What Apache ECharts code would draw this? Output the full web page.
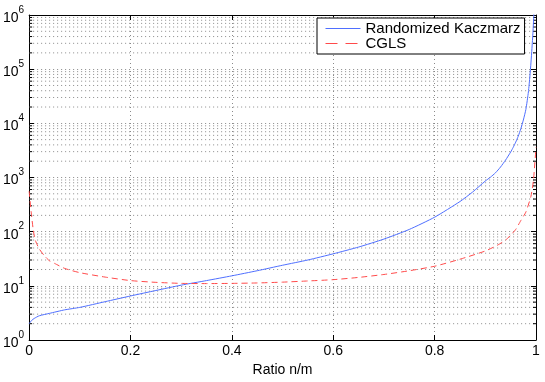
<!DOCTYPE html>
<html>
<head>
<meta charset="utf-8">
<script src="https://cdn.jsdelivr.net/npm/echarts@6/dist/echarts.min.js"></script>
<style>
  html, body { margin: 0; padding: 0; background: #fff; }
  #chart { width: 545px; height: 382px; }
</style>
</head>
<body>
<div id="chart"></div>
<script>
// ratio n/m and iteration counts
const ratioRK = [0, 0.005, 0.01, 0.02, 0.04, 0.07, 0.1, 0.15, 0.2, 0.25, 0.3, 0.35, 0.4, 0.45, 0.5,
    0.55, 0.6, 0.65, 0.7, 0.75, 0.8, 0.85, 0.875, 0.9, 0.91, 0.92, 0.93, 0.94, 0.95, 0.955,
    0.96, 0.965, 0.97, 0.975, 0.98, 0.985, 0.988, 0.99, 0.992, 0.994, 0.9957, 0.998];
const kaczmarz = [2.0, 2.3, 2.5, 2.8, 3.1, 3.6, 4.0, 5.1, 6.5, 8.2, 10.3, 12.5, 15.3, 19, 24,
    30, 39, 52, 73, 110, 185, 360, 540, 860, 1010, 1220, 1560, 2100, 2950, 3600,
    4500, 5800, 7900, 11500, 18000, 38000, 75000, 130000, 240000, 480000, 1000000, 4000000];

const ratioCG = [0, 0.004, 0.008, 0.012, 0.02, 0.03, 0.04, 0.05, 0.07, 0.1, 0.15, 0.2, 0.25, 0.3,
    0.35, 0.4, 0.45, 0.5, 0.55, 0.6, 0.65, 0.7, 0.75, 0.8, 0.85, 0.9, 0.925, 0.94, 0.95, 0.96,
    0.97, 0.98, 0.99, 0.995, 1];
const cgls = [560, 230, 110, 70, 48, 36, 29, 26, 21, 17.5, 14.5, 12.5, 11.6, 11.1,
    11, 11.1, 11.3, 11.7, 12.3, 13, 14.3, 16.2, 19, 23, 31, 44, 57, 70, 86, 110,
    160, 230, 450, 900, 3600];

const xTicks = [0, 0.2, 0.4, 0.6, 0.8, 1];
const decades = [1, 10, 100, 1000, 10000, 100000, 1000000];

// minor log ticks 2..9 per decade
const minorVals = [];
decades.slice(0, -1).forEach(d => {
    for (let k = 2; k <= 9; k++) minorVals.push(d * k);
});

const gridColor = '#8a8a8a';
const dotted = [1, 3];
const dash = [6, 4];

function renderMinor(params, api) {
    const v = api.value(1);
    const a = api.coord([0, v]);
    const b = api.coord([1, v]);
    return {
        type: 'group',
        children: [
            { type: 'line', shape: { x1: a[0], y1: a[1], x2: b[0], y2: b[1] },
              style: { stroke: gridColor, lineWidth: 1, lineDash: dotted } },
            { type: 'line', shape: { x1: a[0], y1: a[1], x2: a[0] + 3, y2: a[1] },
              style: { stroke: '#000', lineWidth: 1 } },
            { type: 'line', shape: { x1: b[0] - 3, y1: b[1], x2: b[0], y2: b[1] },
              style: { stroke: '#000', lineWidth: 1 } }
        ]
    };
}

function initChart() {
    const chart = echarts.init(document.getElementById('chart'));
    const font = 'Liberation Sans, Arial, Helvetica, sans-serif';
    const option = {
        animation: false,
        textStyle: { fontFamily: font },
        grid: { left: 28, right: 9, top: 15, bottom: 35 },
        legend: {
            data: [
                { name: 'Randomized Kaczmarz', lineStyle: { width: 1, type: 'solid' } },
                // legend icon is drawn at half scale, so the dash is doubled here
                { name: 'CGLS', lineStyle: { width: 1, type: [12, 8] } }
            ],
            orient: 'vertical',
            left: 317,
            top: 18,
            backgroundColor: '#fff',
            borderColor: '#000',
            borderWidth: 1,
            borderRadius: 0,
            padding: [3, 4, 3, 8],
            itemGap: 0,
            itemWidth: 35,
            itemHeight: 10,
            itemStyle: { opacity: 0 },
            textStyle: { fontSize: 15, color: '#000', lineHeight: 15, fontFamily: font }
        },
        xAxis: [{
            type: 'value',
            min: 0,
            max: 1,
            interval: 0.2,
            name: 'Ratio n/m',
            nameLocation: 'middle',
            nameGap: 23,
            nameTextStyle: { fontSize: 14, color: '#000' },
            axisLine: { onZero: false, lineStyle: { color: '#000', width: 1 } },
            axisTick: { inside: true, length: 5, lineStyle: { color: '#000' } },
            axisLabel: { fontSize: 14, color: '#000', margin: 4,
                formatter: v => xTicks.includes(+v.toFixed(1)) ? String(+v.toFixed(1)) : '' },
            splitLine: { show: true, lineStyle: { color: gridColor, type: dotted } }
        }, {
            type: 'value',
            position: 'top',
            min: 0,
            max: 1,
            interval: 0.2,
            axisLine: { onZero: false, lineStyle: { color: '#000', width: 1 } },
            axisTick: { inside: true, length: 5, lineStyle: { color: '#000' } },
            axisLabel: { show: false },
            splitLine: { show: false }
        }],
        yAxis: [{
            type: 'log',
            logBase: 10,
            min: 1,
            max: 1e6,
            axisLine: { onZero: false, lineStyle: { color: '#000', width: 1 } },
            axisTick: { inside: true, length: 5, lineStyle: { color: '#000' } },
            axisLabel: {
                margin: 5,
                color: '#000',
                formatter: v => '{b|10}{s|' + Math.round(Math.log10(v)) + '}',
                rich: {
                    b: { fontSize: 14, lineHeight: 20, verticalAlign: 'bottom', color: '#000' },
                    s: { fontSize: 10, lineHeight: 20, verticalAlign: 'top', color: '#000' }
                }
            },
            splitLine: { show: true, lineStyle: { color: gridColor, type: dotted } }
        }, {
            type: 'log',
            logBase: 10,
            min: 1,
            max: 1e6,
            position: 'right',
            axisLine: { onZero: false, lineStyle: { color: '#000', width: 1 } },
            axisTick: { inside: true, length: 5, lineStyle: { color: '#000' } },
            axisLabel: { show: false },
            splitLine: { show: false }
        }],
        series: [{
            name: 'minor',
            type: 'custom',
            silent: true,
            renderItem: renderMinor,
            data: minorVals.map(v => [0, v]),
            z: 1
        }, {
            name: 'Randomized Kaczmarz',
            type: 'line',
            symbol: 'none',
            smooth: 0.2,
            data: ratioRK.map((r, i) => [r, kaczmarz[i]]),
            lineStyle: { color: '#4f6fff', width: 1 },
            itemStyle: { color: '#4f6fff' },
            z: 3
        }, {
            name: 'CGLS',
            type: 'line',
            symbol: 'none',
            smooth: 0.2,
            data: ratioCG.map((r, i) => [r, cgls[i]]),
            lineStyle: { color: '#ff4a4a', width: 1, type: dash },
            itemStyle: { color: '#ff4a4a' },
            z: 3
        }]
    };
    chart.setOption(option);
    return chart;
}

document.addEventListener('DOMContentLoaded', function () {
    const chart = initChart();
    window.addEventListener('resize', function () {
        chart.resize();
    });
});
</script>
</body>
</html>
